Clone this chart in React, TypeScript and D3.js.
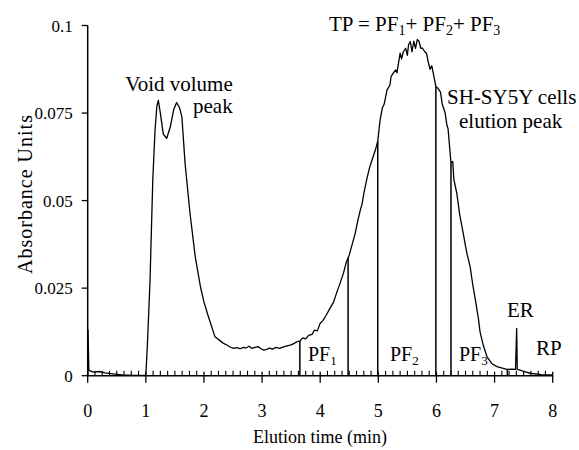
import React from "react";
import * as d3 from "d3";

const curveX = [0, 0.005, 0.02, 0.1, 0.2, 0.3, 0.4, 0.5, 0.6, 0.8, 0.98, 1.0, 1.03, 1.072, 1.12, 1.158, 1.19, 1.215, 1.25, 1.3, 1.36, 1.42, 1.48, 1.53, 1.58, 1.62, 1.675, 1.76, 1.85, 1.94, 2.0, 2.076, 2.19, 2.33, 2.4, 2.45, 2.51, 2.56, 2.62, 2.68, 2.72, 2.78, 2.82, 2.88, 2.93, 2.98, 3.03, 3.08, 3.13, 3.18, 3.24, 3.3, 3.37, 3.43, 3.5, 3.56, 3.6, 3.65, 3.7, 3.75, 3.8, 3.86, 3.9, 3.95, 4.0, 4.05, 4.1, 4.17, 4.23, 4.3, 4.35, 4.4, 4.45, 4.5, 4.55, 4.6, 4.65, 4.69, 4.72, 4.75, 4.8, 4.85, 4.9, 4.95, 4.99, 5.03, 5.07, 5.1, 5.15, 5.2, 5.22, 5.26, 5.3, 5.32, 5.375, 5.4, 5.43, 5.47, 5.5, 5.52, 5.55, 5.58, 5.61, 5.64, 5.67, 5.7, 5.73, 5.76, 5.8, 5.83, 5.86, 5.89, 5.92, 5.95, 5.99, 6.03, 6.07, 6.1, 6.15, 6.18, 6.2, 6.25, 6.28, 6.3, 6.35, 6.4, 6.46, 6.5, 6.53, 6.58, 6.62, 6.67, 6.72, 6.75, 6.8, 6.87, 6.95, 7.04, 7.12, 7.21, 7.3, 7.36, 7.38, 7.39, 7.44, 7.5, 7.61, 7.8, 8.0];
const curveY = [0, 0.013, 0.0015, 0.001, 0.0012, 0.0008, 0.0006, 0.0004, 0.0002, 0.0001, 0.0001, 0.0, 0.01, 0.027, 0.056, 0.07, 0.077, 0.0786, 0.075, 0.069, 0.0678, 0.071, 0.076, 0.078, 0.0765, 0.074, 0.0607, 0.0464, 0.034, 0.0254, 0.021, 0.0169, 0.0111, 0.0093, 0.0087, 0.0082, 0.0078, 0.008, 0.0077, 0.0081, 0.0079, 0.0084, 0.0078, 0.0081, 0.0083, 0.0077, 0.0073, 0.0075, 0.0079, 0.0076, 0.0081, 0.0078, 0.0082, 0.0085, 0.0088, 0.0093, 0.0097, 0.0099, 0.0108, 0.0105, 0.0115, 0.0118, 0.013, 0.0128, 0.015, 0.0158, 0.0172, 0.0193, 0.021, 0.0245, 0.0268, 0.0293, 0.0325, 0.0345, 0.0375, 0.0405, 0.0445, 0.0473, 0.049, 0.052, 0.056, 0.0595, 0.062, 0.0645, 0.067, 0.073, 0.0765, 0.0775, 0.0816, 0.083, 0.0855, 0.0865, 0.0873, 0.0865, 0.0921, 0.0905, 0.0925, 0.0935, 0.0915, 0.0945, 0.0954, 0.0925, 0.0955, 0.0935, 0.096, 0.0955, 0.0935, 0.0935, 0.0925, 0.092, 0.0895, 0.0875, 0.0885, 0.086, 0.0826, 0.082, 0.081, 0.0775, 0.075, 0.0715, 0.0705, 0.0607, 0.0612, 0.056, 0.0521, 0.046, 0.0407, 0.037, 0.0345, 0.0311, 0.0265, 0.0216, 0.0165, 0.0125, 0.009, 0.0054, 0.0035, 0.0026, 0.0022, 0.0018, 0.0019, 0.0018, 0.0135, 0.0018, 0.0016, 0.0012, 0.0007, 0.0003, 0.0002];

const dividers = [3.65, 4.48, 4.99, 5.99, 6.25, 7.22];
const xTicks = [0, 1, 2, 3, 4, 5, 6, 7, 8];
const yTicks = [0, 0.025, 0.05, 0.075, 0.1];
const yTickLabels = ["0", "0.025", "0.05", "0.075", "0.1"];

const FONT = '"Liberation Serif", "Times New Roman", Times, "DejaVu Serif", serif';

export default function App() {
  const x = d3.scaleLinear().domain([0, 8]).range([87.7, 552.7]);
  const y = d3.scaleLinear().domain([0, 0.1]).range([375.7, 25.5]);
  const pts: [number, number][] = curveX.map((v, i) => [v, curveY[i]]);
  const line = d3
    .line<[number, number]>()
    .x((d) => x(d[0]))
    .y((d) => y(d[1]));
  const interp = (v: number) => {
    const i = d3.bisectLeft(curveX, v);
    if (i <= 0) return curveY[0];
    const x0 = curveX[i - 1], x1 = curveX[i];
    const t = (v - x0) / (x1 - x0);
    return curveY[i - 1] + t * (curveY[i] - curveY[i - 1]);
  };
  const minor = d3.range(0, 64).map((i) => i / 8).filter((v) => v % 1 !== 0);
  const y0 = y(0);
  return (
    <svg
      width={579}
      height={450}
      style={{ position: "absolute", left: 0, top: 0, background: "#fff", fontFamily: FONT }}
    >
      <rect x={0} y={0} width={579} height={450} fill="#fff" />
      <line x1={x(0)} x2={x(0)} y1={y(0.1)} y2={y0} stroke="#000" strokeWidth={1.5} />
      {yTicks.map((t, i) => (
        <g key={t}>
          <line x1={x(0) - 6} x2={x(0)} y1={y(t)} y2={y(t)} stroke="#000" strokeWidth={1.3} />
          <text x={x(0) - 15} y={y(t) + 6} textAnchor="end" fontSize={17}>
            {yTickLabels[i]}
          </text>
        </g>
      ))}
      <line x1={x(0)} x2={x(8)} y1={y0} y2={y0} stroke="#000" strokeWidth={1.5} />
      {xTicks.map((t) => (
        <g key={t}>
          <line x1={x(t)} x2={x(t)} y1={y0 - 4} y2={y0 + 7} stroke="#000" strokeWidth={1.3} />
          <text x={x(t)} y={417} textAnchor="middle" fontSize={18}>
            {t}
          </text>
        </g>
      ))}
      {minor.map((t) => (
        <line key={t} x1={x(t)} x2={x(t)} y1={y0 - 5} y2={y0} stroke="#000" strokeWidth={1.1} />
      ))}
      <path d={line(pts) || ""} fill="none" stroke="#000" strokeWidth={1.3} strokeLinejoin="round" />
      {dividers.map((d) => (
        <line key={d} x1={x(d)} x2={x(d)} y1={y0} y2={y(interp(d))} stroke="#000" strokeWidth={1.5} />
      ))}
      <text x={320} y={443} textAnchor="middle" fontSize={18}>
        Elution time (min)
      </text>
      <text
        transform={`translate(32,194) rotate(-90)`}
        textAnchor="middle"
        fontSize={20}
        letterSpacing={1}
      >
        Absorbance Units
      </text>
      <text x={179} y={91} textAnchor="middle" fontSize={21}>Void volume</text>
      <text x={193} y={113} fontSize={21}>peak</text>
      <text x={329} y={31} fontSize={21}>
        TP = PF<tspan fontSize={14} dy={4}>1</tspan>
        <tspan dy={-4}>+ PF</tspan>
        <tspan fontSize={14} dy={4}>2</tspan>
        <tspan dy={-4}>+ PF</tspan>
        <tspan fontSize={14} dy={4}>3</tspan>
      </text>
      <text x={447} y={104} fontSize={21}>SH-SY5Y cells</text>
      <text x={459} y={128} fontSize={21}>elution peak</text>
      <text x={308} y={361} fontSize={20}>
        PF<tspan fontSize={13} dy={4}>1</tspan>
      </text>
      <text x={390} y={361} fontSize={20}>
        PF<tspan fontSize={13} dy={4}>2</tspan>
      </text>
      <text x={459} y={361} fontSize={20}>
        PF<tspan fontSize={13} dy={4}>3</tspan>
      </text>
      <text x={507} y={317} fontSize={21}>ER</text>
      <text x={536} y={355} fontSize={21}>RP</text>
    </svg>
  );
}
